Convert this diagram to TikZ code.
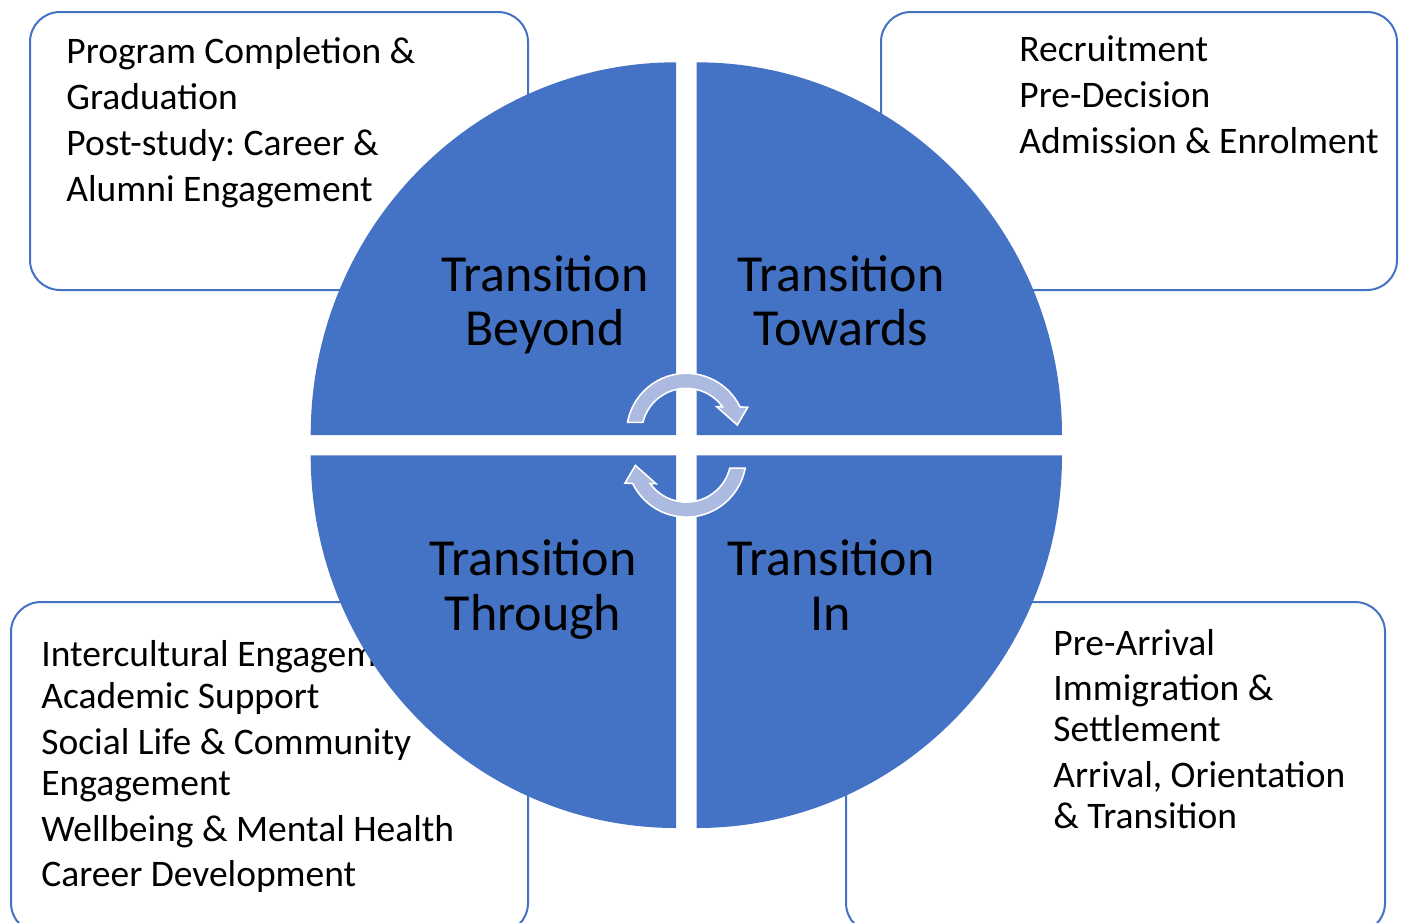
\documentclass[tikz,border=0pt]{standalone}
\usepackage{fontspec}
\setmainfont{Carlito}
\definecolor{accblue}{RGB}{68,114,196}
\definecolor{arrowblue}{RGB}{172,185,224}
\frenchspacing
\begin{document}
\begin{tikzpicture}[x=0.5pt,y=-0.5pt,
  infobox/.style={draw=accblue, line width=1pt, fill=white, rounded corners=15pt},
  itemtxt/.style={anchor=base west, inner sep=0pt, font=\fontsize{18.75}{22}\selectfont},
  quadtxt/.style={anchor=base, inner sep=0pt, font=\fontsize{26}{31}\selectfont},
  quad/.style={fill=accblue},
  cycarrow/.style={fill=arrowblue, draw=white, line width=0.8pt, line join=miter}]
\clip (0,0) rectangle (1403,922);
\fill[white] (0,0) rectangle (1403,922);

% outer boxes
\draw[infobox] (30,12) rectangle (528,290);
\draw[infobox] (881,12) rectangle (1397,290);
\draw[infobox] (11,602) rectangle (528,933);
\draw[infobox] (846,602) rectangle (1385,933);

% box texts
\node[itemtxt] (tl1) at (66,63.5) {Program Completion \&};
\node[itemtxt] (tl2) at (66,109.5) {Graduation};
\node[itemtxt] (tl3) at (66,155) {Post-study: Career \&};
\node[itemtxt] (tl4) at (66,201) {Alumni Engagement};

\node[itemtxt] (tr1) at (1019,61) {Recruitment};
\node[itemtxt] (tr2) at (1019,107.3) {Pre-Decision};
\node[itemtxt] (tr3) at (1019,153.3) {Admission \& Enrolment};

\node[itemtxt] (bl1) at (41,666) {Intercultural Engagement};
\node[itemtxt] (bl2) at (41,708.3) {Academic Support};
\node[itemtxt] (bl3) at (41,754) {Social Life \& Community};
\node[itemtxt] (bl4) at (41,795) {Engagement};
\node[itemtxt] (bl5) at (41,841.7) {Wellbeing \& Mental Health};
\node[itemtxt] (bl6) at (41,886.7) {Career Development};

\node[itemtxt] (br1) at (1053,655) {Pre-Arrival};
\node[itemtxt] (br2) at (1053,700) {Immigration \&};
\node[itemtxt] (br3) at (1053,741.7) {Settlement};
\node[itemtxt] (br4) at (1053,787.3) {Arrival, Orientation};
\node[itemtxt] (br5) at (1053,828.3) {\& Transition};

% quadrants
\fill[quad] (676,435) -- (310.7,435) arc[start angle=180, end angle=270, x radius=365.3, y radius=372.7] -- cycle;
\fill[quad] (696.7,435) -- (696.7,62.3) arc[start angle=270, end angle=360, x radius=365.3, y radius=372.7] -- cycle;
\fill[quad] (676,455.3) -- (310.7,455.3) arc[start angle=180, end angle=90, x radius=365.3, y radius=372.7] -- cycle;
\fill[quad] (696.7,455.3) -- (1062,455.3) arc[start angle=0, end angle=90, x radius=365.3, y radius=372.7] -- cycle;

% quadrant labels
\node[quadtxt] (qb1) at (545,291.7) {Transition};
\node[quadtxt] (qb2) at (545,345) {Beyond};
\node[quadtxt] (qt1) at (841,291.7) {Transition};
\node[quadtxt] (qt2) at (841,345) {Towards};
\node[quadtxt] (qh1) at (533,575) {Transition};
\node[quadtxt] (qh2) at (533,630) {Through};
\node[quadtxt] (qi1) at (831,575) {Transition};
\node[quadtxt] (qi2) at (831,630) {In};

% cycle arrows
\coordinate (tc) at (686.3,433);
\coordinate (bc) at (686.4,457.4);
\draw[cycarrow] ([shift={(190.3:59.7)}]tc) arc[start angle=190.3, end angle=334.1, radius=59.7]
  -- (747.7,407.3) -- (737.3,425) -- (716.7,406.7)
  -- ([shift={(324.2:44.7)}]tc) arc[start angle=324.2, end angle=193.85, radius=44.7] -- cycle;
\draw[cycarrow] ([shift={(10.3:59.7)}]bc) arc[start angle=10.3, end angle=154.1, radius=59.7]
  -- (625.0,483.1) -- (635.4,465.4) -- (656.0,483.7)
  -- ([shift={(144.2:44.7)}]bc) arc[start angle=144.2, end angle=13.85, radius=44.7] -- cycle;
\end{tikzpicture}
\end{document}
